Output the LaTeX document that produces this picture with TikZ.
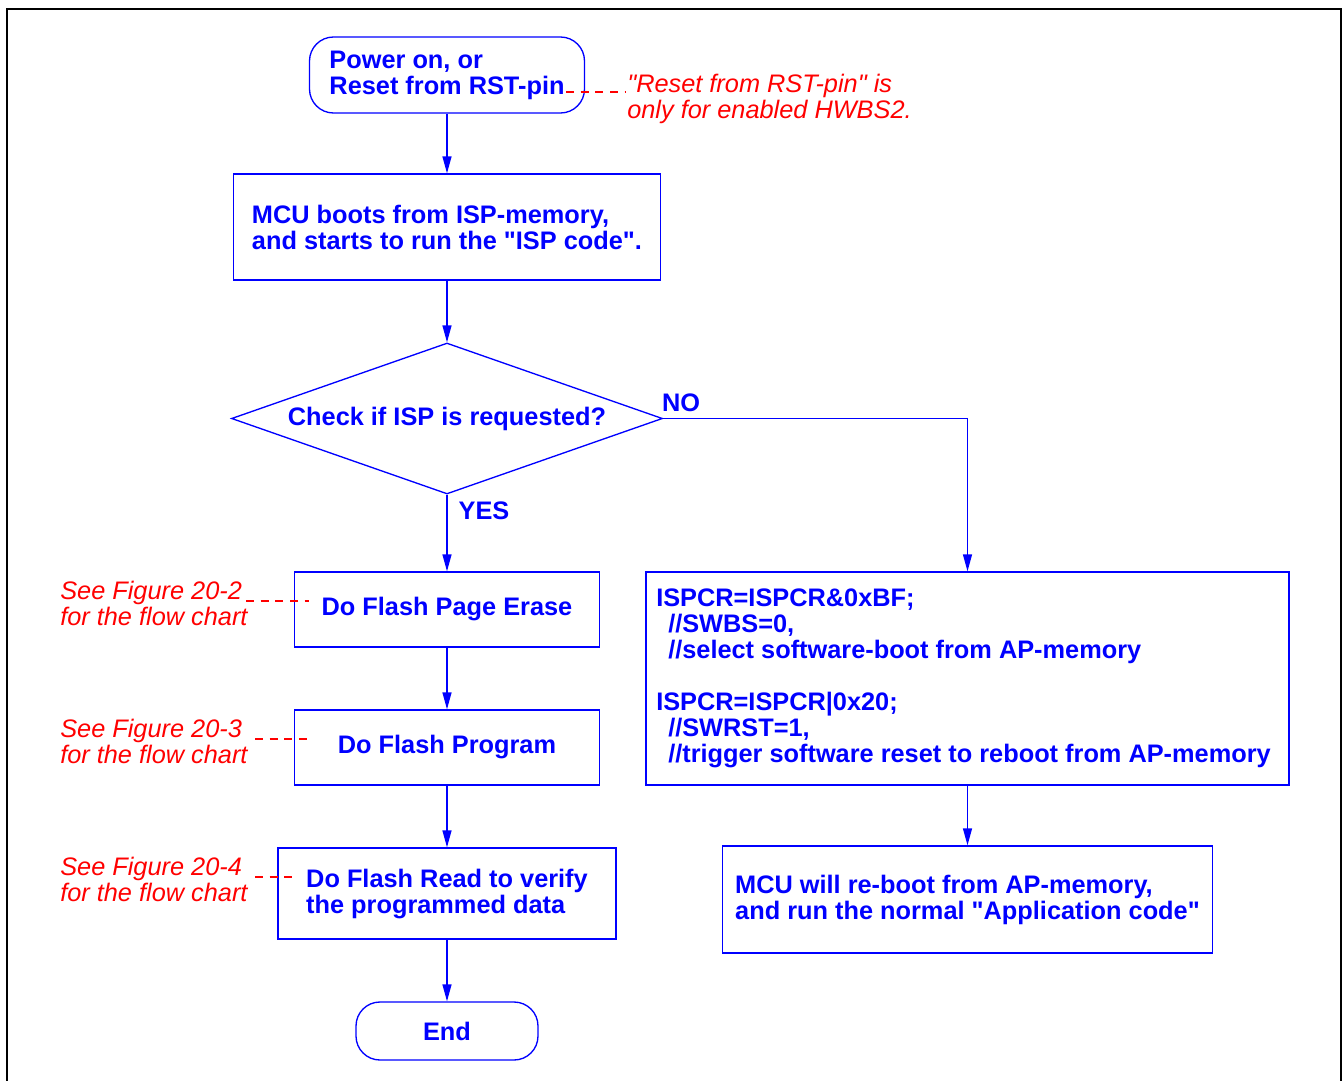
\documentclass[tikz,border=0pt]{standalone}
\usepackage{fontspec}
\setmainfont{Liberation Sans}
\newfontfamily\lib{Liberation Sans}
\usetikzlibrary{shapes.geometric,arrows.meta}
\definecolor{fblue}{RGB}{0,0,255}
\definecolor{fred}{RGB}{255,0,0}
\begin{document}
\begin{tikzpicture}[x=0.75pt,y=-0.75pt,
  box/.style={draw=fblue, line width=1pt, text=fblue, font=\lib\bfseries\fontsize{19}{19.5}\selectfont, align=left, inner sep=0pt},
  term/.style={box, rounded corners=18pt},
  note/.style={text=fred, font=\lib\itshape\fontsize{19}{19.5}\selectfont, align=left, anchor=west, inner sep=0pt},
  lbl/.style={text=fblue, font=\lib\bfseries\fontsize{19}{19.5}\selectfont, inner sep=0pt},
  flow/.style={draw=fblue, line width=1pt, -{Triangle[length=12.75pt,width=6.75pt]}},
  link/.style={draw=fred, line width=1pt, dash pattern=on 6pt off 5pt}]
\useasboundingbox (0,0) rectangle (1343,1081);
% frame
\draw[line width=1.5pt] (7,1081) -- (7,9) -- (1341,9) -- (1341,1081);
% left column
\node[term, minimum width=206.25pt, minimum height=57pt] (start) at (447,75) {Power on, or\\Reset from RST-pin};
\node[box, minimum width=320.25pt, minimum height=79.5pt] (mcu) at (447,227) {MCU boots from ISP-memory,\\and starts to run the "ISP code".};
\node[box, shape=diamond, aspect=2.85, minimum width=323.25pt, minimum height=113.25pt] (dia) at (447,418.5) {Check if ISP is requested?};
\node[box, minimum width=228.75pt, minimum height=56.25pt] (erase) at (447,609.5) {Do Flash Page Erase};
\node[box, minimum width=228.75pt, minimum height=56.25pt] (prog) at (447,747.5) {Do Flash Program};
\node[box, minimum width=253.5pt, minimum height=68.25pt] (read) at (447,893.5) {Do Flash Read to verify\\the programmed data};
\node[term, minimum width=136.5pt, minimum height=43.5pt] (end) at (447,1031) {End};
% right column
\node[box, minimum width=482.25pt, minimum height=159.75pt] (isp) at (967.5,678.5) {ISPCR=ISPCR\&0xBF;\\
\hspace*{9pt}//SWBS=0,\\
\hspace*{9pt}//select software-boot from AP-memory\\
\mbox{}\\
ISPCR=ISPCR|0x20;\\
\hspace*{9pt}//SWRST=1,\\
\hspace*{9pt}//trigger software reset to reboot from AP-memory\hspace*{6pt}};
\node[box, minimum width=367.5pt, minimum height=80.25pt] (app) at (967.5,899.5) {MCU will re-boot from AP-memory,\\and run the normal "Application code"};
% labels
\node[lbl] (no) at (681,403) {NO};
\node[lbl] (yes) at (484,511) {YES};
% connectors
\draw[flow] (start) -- (mcu);
\draw[flow] (mcu) -- (dia);
\draw[flow] (dia.south) -- (erase);
\draw[flow] (erase) -- (prog);
\draw[flow] (prog) -- (read);
\draw[flow] (read) -- (end);
\draw[flow] (dia.east) -| (isp.north);
\draw[flow] (isp) -- (app);
% notes
\node[note] (n1) at (627,99) {"Reset from RST-pin" is\\only for enabled HWBS2.};
\node[note] (n2) at (60,603) {See Figure 20-2\\for the flow chart};
\node[note] (n3) at (60,741) {See Figure 20-3\\for the flow chart};
\node[note] (n4) at (60,879) {See Figure 20-4\\for the flow chart};
\coordinate (d1a) at (566,92);
\coordinate (d1b) at (625,92);
\coordinate (d2a) at (246,601);
\coordinate (d2b) at (309,601);
\coordinate (d3a) at (255,739);
\coordinate (d3b) at (309,739);
\coordinate (d4a) at (255,877);
\coordinate (d4b) at (294,877);
\draw[link] (d1a) -- (d1b);
\draw[link] (d2a) -- (d2b);
\draw[link] (d3a) -- (d3b);
\draw[link] (d4a) -- (d4b);
\end{tikzpicture}
\end{document}
